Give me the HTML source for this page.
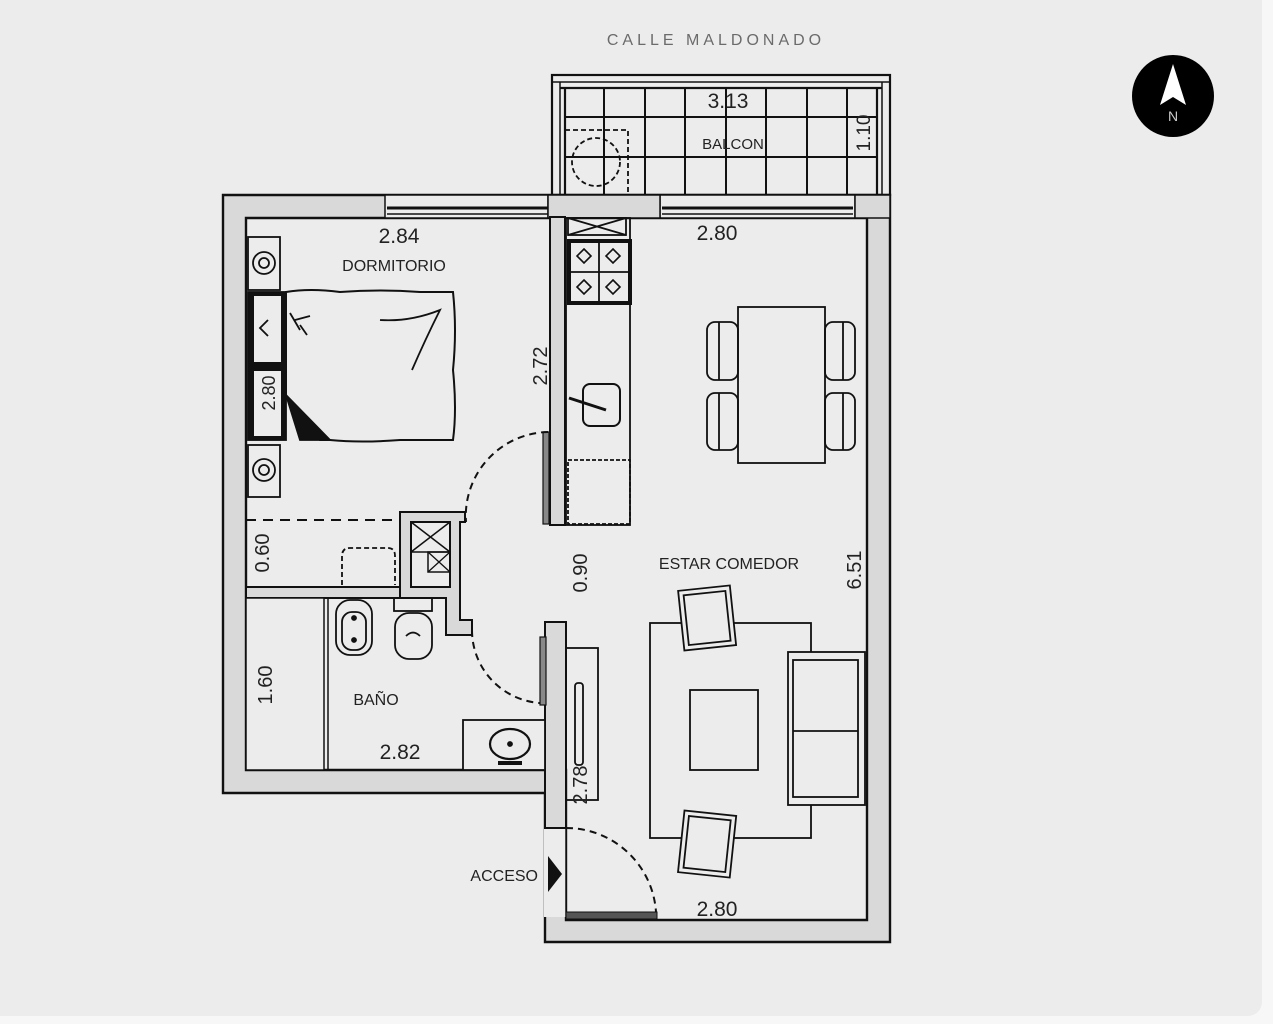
<!DOCTYPE html>
<html><head><meta charset="utf-8"><style>
html,body{margin:0;padding:0;background:#fff;}
svg{display:block;}
text{font-family:"Liberation Sans",Arial,sans-serif;fill:#222;}
</style></head><body>
<svg width="1273" height="1024" viewBox="0 0 1273 1024" xmlns="http://www.w3.org/2000/svg">
<rect x="0" y="0" width="1273" height="1024" fill="#f7f7f7"/>
<rect x="0" y="0" width="1262" height="1016" rx="14" fill="#ebeceb"/>
<rect x="0" y="0" width="40" height="1016" fill="#ebeceb"/>
<rect x="0" y="0" width="1262" height="40" fill="#ebeceb"/>

<text x="716" y="45" font-size="16" text-anchor="middle" letter-spacing="4" style="fill:#6b6b6b">CALLE MALDONADO</text>

<!-- North -->
<circle cx="1173" cy="96" r="41" fill="#000"/>
<path d="M1173 64 L1186 105 L1173 97 L1160 105 Z" fill="#fff"/>
<text x="1173" y="121" font-size="14" text-anchor="middle" style="fill:#ccc">N</text>

<!-- Balcony -->
<g stroke="#111" fill="none">
<rect x="552" y="75" width="338" height="120" fill="#ebeceb" stroke-width="2.2"/>
<line x1="552" y1="82" x2="890" y2="82" stroke-width="1.5"/>
<line x1="560" y1="88" x2="882" y2="88" stroke-width="2.2"/>
<line x1="560" y1="82" x2="560" y2="195" stroke-width="1.5"/>
<line x1="565" y1="88" x2="565" y2="195" stroke-width="2.2"/>
<line x1="882" y1="82" x2="882" y2="195" stroke-width="1.5"/>
<line x1="877" y1="88" x2="877" y2="195" stroke-width="2.2"/>
<g stroke-width="2">
<line x1="604" y1="88" x2="604" y2="195"/><line x1="645" y1="88" x2="645" y2="195"/>
<line x1="685" y1="88" x2="685" y2="195"/><line x1="726" y1="88" x2="726" y2="195"/>
<line x1="766" y1="88" x2="766" y2="195"/><line x1="807" y1="88" x2="807" y2="195"/>
<line x1="847" y1="88" x2="847" y2="195"/>
<line x1="565" y1="117" x2="877" y2="117"/><line x1="565" y1="157" x2="877" y2="157"/>
</g>
<path d="M565 130 H628 V193" stroke-dasharray="5 3" stroke-width="1.8"/>
<circle cx="596" cy="162" r="24" stroke-dasharray="5 3" stroke-width="1.8"/>
</g>
<text x="728" y="108" font-size="21" text-anchor="middle">3.13</text>
<text x="733" y="149" font-size="15" text-anchor="middle">BALCON</text>
<text transform="translate(870,133) rotate(-90)" font-size="19" text-anchor="middle">1.10</text>

<!-- Walls -->
<path d="M223 195 H890 V942 H545 V793 H223 Z" fill="#d8d9d8" stroke="#111" stroke-width="2.4"/>
<path d="M246 218 H867 V920 H566 V770 H246 Z" fill="#ebeceb" stroke="#111" stroke-width="2.4"/>
<!-- entry door gap -->
<rect x="544" y="828" width="22" height="89" fill="#ebeceb"/>
<line x1="545" y1="828" x2="566" y2="828" stroke="#111" stroke-width="2"/>
<line x1="566" y1="828" x2="566" y2="920" stroke="#111" stroke-width="1.5"/>
<rect x="566" y="912" width="91" height="7" fill="#555" stroke="#111"/>
<path d="M566 828 A90 90 0 0 1 656 912" fill="none" stroke="#111" stroke-width="2" stroke-dasharray="7 5"/>
<path d="M548 856 L562 874 L548 892 Z" fill="#111"/>
<text x="538" y="881" font-size="16" text-anchor="end">ACCESO</text>

<!-- windows -->
<g stroke="#111" stroke-width="1.5">
<rect x="385" y="195" width="163" height="23" fill="#ebeceb"/>
<line x1="387" y1="208" x2="548" y2="208" stroke-width="3"/>
<line x1="387" y1="214" x2="548" y2="214"/>
<rect x="660" y="195" width="195" height="23" fill="#ebeceb"/>
<line x1="662" y1="208" x2="853" y2="208" stroke-width="3"/>
<line x1="662" y1="214" x2="853" y2="214"/>
</g>
<rect x="548" y="195" width="112" height="23" fill="#d8d9d8" stroke="#111" stroke-width="1.5"/>
<rect x="855" y="195" width="35" height="23" fill="#d8d9d8" stroke="#111" stroke-width="1.5"/>

<!-- interior walls -->
<g fill="#d8d9d8" stroke="#111" stroke-width="2">
<rect x="550" y="217" width="15" height="308"/>
<rect x="246" y="587" width="200" height="11"/>
<path d="M400 512 H465 V522 H460 V620 H472 V635 H446 V598 H400 Z"/>
<rect x="545" y="622" width="21" height="206"/>
<rect x="246" y="598" width="78" height="172" fill="#ebeceb" stroke-width="1.5"/>
</g>
<line x1="328" y1="598" x2="328" y2="770" stroke="#111" stroke-width="1.5"/>
<rect x="411" y="522" width="39" height="65" fill="#ebeceb" stroke="#111" stroke-width="2"/>
<path d="M411 522 L450 552 M450 522 L411 552 M411 552 H450" stroke="#111" stroke-width="1.5" fill="none"/>
<rect x="428" y="552" width="22" height="20" fill="none" stroke="#111" stroke-width="1.5"/>
<path d="M428 552 L450 572 M450 552 L428 572" stroke="#111" stroke-width="1.3"/>

<!-- bedroom door -->
<rect x="543" y="432" width="6" height="92" fill="#888" stroke="#111" stroke-width="1.2"/>
<path d="M548 432 A84 84 0 0 0 466 522" fill="none" stroke="#111" stroke-width="2" stroke-dasharray="7 5"/>
<!-- bath door -->
<rect x="540" y="637" width="6" height="68" fill="#888" stroke="#111" stroke-width="1.2"/>
<path d="M472 630 A73 73 0 0 0 540 703" fill="none" stroke="#111" stroke-width="2" stroke-dasharray="7 5"/>

<!-- kitchen -->
<g stroke="#111" fill="none" stroke-width="1.8">
<rect x="566" y="218" width="64" height="307"/>
<rect x="568" y="218" width="58" height="17"/>
<path d="M568 218 L626 235 M626 218 L568 235"/>
<rect x="569" y="241" width="61" height="62" stroke-width="4"/>
<line x1="599" y1="243" x2="599" y2="301"/><line x1="571" y1="272" x2="628" y2="272"/>
<g stroke-width="1.6">
<path d="M584 249 L591 256 L584 263 L577 256 Z"/><path d="M613 249 L620 256 L613 263 L606 256 Z"/>
<path d="M584 280 L591 287 L584 294 L577 287 Z"/><path d="M613 280 L620 287 L613 294 L606 287 Z"/>
</g>
<rect x="583" y="384" width="37" height="42" rx="7" stroke-width="2"/>
<path d="M569 398 L606 410" stroke-width="3"/>
<rect x="568" y="460" width="62" height="64" stroke-dasharray="4 2"/>
</g>

<!-- bedroom -->
<g stroke="#111" fill="none" stroke-width="1.8">
<rect x="248" y="237" width="32" height="53"/>
<circle cx="264" cy="263" r="11"/><circle cx="264" cy="263" r="5"/>
<rect x="248" y="445" width="32" height="52"/>
<circle cx="264" cy="470" r="11"/><circle cx="264" cy="470" r="5"/>
<rect x="248" y="292" width="38" height="148" fill="#111"/>
<rect x="254" y="296" width="27" height="66" fill="#ebeceb" stroke="none"/>
<rect x="254" y="371" width="27" height="65" fill="#ebeceb" stroke="none"/>
<path d="M268 320 L260 328 L268 336"/>
<path d="M286 292 Q310 288 340 292 Q380 289 420 292 L453 292 Q457 330 453 370 Q457 410 453 440 L400 440 Q360 443 330 440 L320 440 Q300 420 286 395 Z" stroke-width="2"/>
<path d="M286 395 L330 440 L300 440 Z" fill="#111"/>
<path d="M290 313 L300 330 M295 320 L310 316 M300 325 L307 335"/>
<path d="M380 320 Q410 322 440 310 Q425 340 412 370"/>
</g>
<text transform="translate(275,393) rotate(-90)" font-size="18" text-anchor="middle">2.80</text>
<text x="399" y="243" font-size="21" text-anchor="middle">2.84</text>
<text x="394" y="271" font-size="16" text-anchor="middle">DORMITORIO</text>
<text transform="translate(547,366) rotate(-90)" font-size="20" text-anchor="middle">2.72</text>
<line x1="246" y1="520" x2="400" y2="520" stroke="#111" stroke-width="2" stroke-dasharray="10 7"/>
<path d="M342 585 V556 Q342 548 350 548 H388 Q395 548 395 556 V585" fill="none" stroke="#111" stroke-width="1.8" stroke-dasharray="5 3"/>
<text transform="translate(269,553) rotate(-90)" font-size="20" text-anchor="middle">0.60</text>

<!-- bath -->
<g stroke="#111" fill="none" stroke-width="1.8">
<rect x="336" y="600" width="36" height="55" rx="14"/>
<rect x="342" y="612" width="24" height="38" rx="10"/>
<circle cx="354" cy="618" r="2" fill="#111"/><circle cx="354" cy="640" r="2" fill="#111"/>
<rect x="394" y="598" width="38" height="13"/>
<rect x="395" y="613" width="37" height="46" rx="14"/>
<path d="M406 636 Q413 629 420 636"/>
<rect x="463" y="720" width="82" height="50" fill="#ebeceb"/>
<ellipse cx="510" cy="744" rx="20" ry="15" stroke-width="2.2"/>
<circle cx="510" cy="744" r="2" fill="#111"/>
<path d="M498 763 H522" stroke-width="4"/>
</g>
<text transform="translate(272,685) rotate(-90)" font-size="20" text-anchor="middle">1.60</text>
<text x="376" y="705" font-size="16" text-anchor="middle">BAÑO</text>
<text x="400" y="759" font-size="21" text-anchor="middle">2.82</text>

<!-- living -->
<g stroke="#111" fill="none" stroke-width="1.8">
<rect x="738" y="307" width="87" height="156" fill="#ebeceb"/>
<rect x="707" y="322" width="31" height="58" rx="8"/><line x1="719" y1="322" x2="719" y2="380"/>
<rect x="707" y="393" width="31" height="57" rx="8"/><line x1="719" y1="393" x2="719" y2="450"/>
<rect x="825" y="322" width="30" height="58" rx="8"/><line x1="843" y1="322" x2="843" y2="380"/>
<rect x="825" y="393" width="30" height="57" rx="8"/><line x1="843" y1="393" x2="843" y2="450"/>
<rect x="650" y="623" width="161" height="215"/>
<rect x="690" y="690" width="68" height="80"/>
<rect x="788" y="652" width="77" height="153" fill="#ebeceb"/>
<rect x="793" y="660" width="65" height="137"/>
<line x1="793" y1="731" x2="858" y2="731"/>
<g transform="rotate(-6 707 617)"><rect x="681" y="588" width="52" height="60" fill="#ebeceb"/><rect x="686" y="593" width="42" height="50"/></g>
<g transform="rotate(6 707 845)"><rect x="681" y="813" width="52" height="62" fill="#ebeceb"/><rect x="686" y="818" width="42" height="52"/></g>
<rect x="566" y="648" width="32" height="152"/>
<rect x="575" y="683" width="8" height="82" rx="3"/>
</g>
<text x="717" y="240" font-size="21" text-anchor="middle">2.80</text>
<text x="729" y="569" font-size="16" text-anchor="middle">ESTAR COMEDOR</text>
<text transform="translate(861,570) rotate(-90)" font-size="20" text-anchor="middle">6.51</text>
<text transform="translate(587,573) rotate(-90)" font-size="20" text-anchor="middle">0.90</text>
<text transform="translate(587,785) rotate(-90)" font-size="20" text-anchor="middle">2.78</text>
<text x="717" y="916" font-size="21" text-anchor="middle">2.80</text>
</svg>
</body></html>
